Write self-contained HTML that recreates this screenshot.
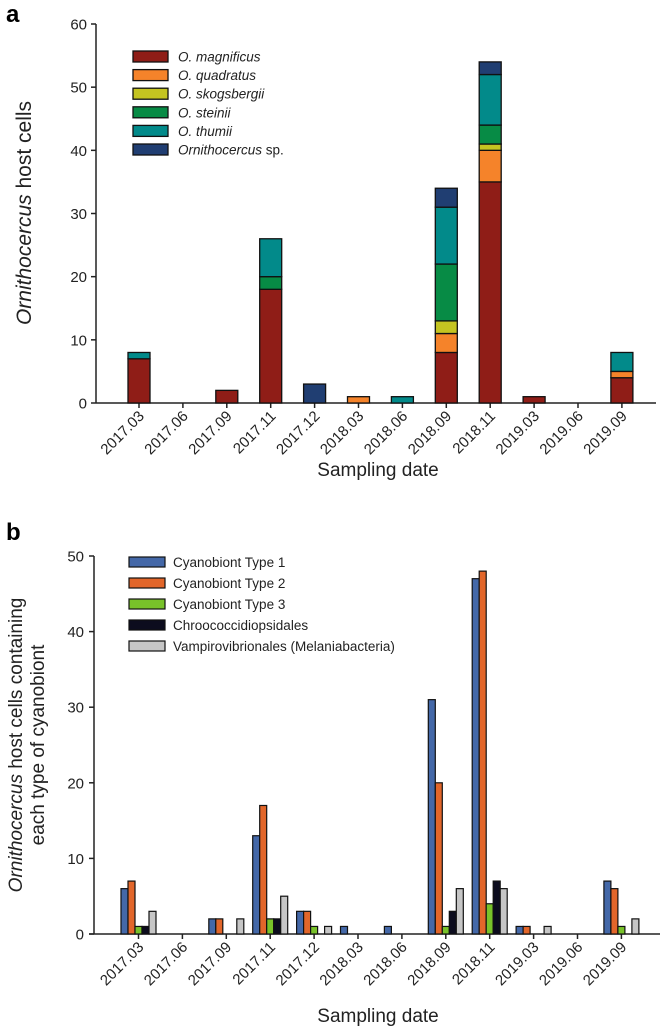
<!DOCTYPE html>
<html><head><meta charset="utf-8"><style>
html,body{margin:0;padding:0;background:#fff;}
svg{display:block;font-family:"Liberation Sans",Arial,sans-serif;}
</style></head><body>
<svg id="fig" width="668" height="1032" viewBox="0 0 668 1032">
<text x="6" y="22" font-size="24" font-weight="bold">a</text>
<text x="6" y="540" font-size="24" font-weight="bold">b</text>
<g id="ga"></g>
<g id="gb"></g>
</svg>
<script>
const categories = ["2017.03","2017.06","2017.09","2017.11","2017.12","2018.03","2018.06","2018.09","2018.11","2019.03","2019.06","2019.09"];
// Panel a stacked series
const aNames = ["O. magnificus","O. quadratus","O. skogsbergii","O. steinii","O. thumii","Ornithocercus sp."];
const aMagnificus = [7,0,2,18,0,0,0,8,35,1,0,4];
const aQuadratus  = [0,0,0,0,0,1,0,3,5,0,0,1];
const aSkogsbergii= [0,0,0,0,0,0,0,2,1,0,0,0];
const aSteinii    = [0,0,0,2,0,0,0,9,3,0,0,0];
const aThumii     = [1,0,0,6,0,0,1,9,8,0,0,3];
const aSp         = [0,0,0,0,3,0,0,3,2,0,0,0];
const aTicks = [0,10,20,30,40,50,60];
// Panel b grouped series
const bNames = ["Cyanobiont Type 1","Cyanobiont Type 2","Cyanobiont Type 3","Chroococcidiopsidales","Vampirovibrionales (Melaniabacteria)"];
const bType1 = [6,0,2,13,3,1,1,31,47,1,0,7];
const bType2 = [7,0,2,17,3,0,0,20,48,1,0,6];
const bType3 = [1,0,0,2,1,0,0,1,4,0,0,1];
const bChroo = [1,0,0,2,0,0,0,3,7,0,0,0];
const bVamp  = [3,0,2,5,1,0,0,6,6,1,0,2];
const bTicks = [0,10,20,30,40,50];

const NS="http://www.w3.org/2000/svg";
function mk(parent,tag,attrs,text){const e=document.createElementNS(NS,tag);for(const k in attrs)e.setAttribute(k,attrs[k]);if(text!==undefined)e.textContent=text;parent.appendChild(e);return e;}

const aCols=["#8f1d17","#f5832a","#c4c421","#078b45","#028a8a","#203e72"];
const bCols=["#4468a8","#e2662a","#78c22a","#0c0c1e","#c6c6c6"];

// ---------- Panel A ----------
(function(){
 const g=document.getElementById('ga');
 const x0=96,x1=656,yTop=24,yBot=403,max=60;
 const y=v=>yBot-(v/max)*(yBot-yTop);
 const xc=i=>139+i*43.9;
 let l;
 l=mk(g,'line',{x1:x0,y1:yTop,x2:x0,y2:yBot,stroke:'#222','stroke-width':1.5});
 
 l=mk(g,'line',{x1:x0,y1:yBot,x2:x1,y2:yBot,stroke:'#222','stroke-width':1.5});
 
 aTicks.forEach(t=>{
  mk(g,'line',{x1:x0-5,y1:y(t),x2:x0,y2:y(t),stroke:'#222','stroke-width':1.5});
  const tx=mk(g,'text',{x:x0-9,y:y(t)+5.5,'font-size':15,'text-anchor':'end',fill:'#222'},t);
  
 });
 const series=[aMagnificus,aQuadratus,aSkogsbergii,aSteinii,aThumii,aSp];
 categories.forEach((c,i)=>{
  mk(g,'line',{x1:xc(i),y1:yBot,x2:xc(i),y2:yBot+5,stroke:'#222','stroke-width':1.5});
  const tx=mk(g,'text',{x:0,y:0,'font-size':15,'text-anchor':'end',fill:'#222',transform:`translate(${xc(i)+6},${yBot+14}) rotate(-45)`},c);
  
  let base=0;
  series.forEach((s,k)=>{
   const v=s[i]; if(!v) return;
   const r=mk(g,'rect',{x:xc(i)-11,y:y(base+v),width:22,height:y(base)-y(base+v),fill:aCols[k],stroke:'#111','stroke-width':1.3});
   
   base+=v;
  });
 });
 aNames.forEach((n,k)=>{
  const yy=51+k*18.6;
  const r=mk(g,'rect',{x:133,y:yy,width:35,height:11,fill:aCols[k],stroke:'#111','stroke-width':1.3});
  
  const t=mk(g,'text',{x:178,y:yy+10.5,'font-size':13.5,fill:'#222'});
  
  if(k===5){mk(t,'tspan',{'font-style':'italic'},'Ornithocercus');mk(t,'tspan',{},' sp.');}
  else{t.setAttribute('font-style','italic');t.textContent=n;}
 });
 let t=mk(g,'text',{x:0,y:0,'font-size':21,'text-anchor':'middle',fill:'#222',transform:'translate(31,213) rotate(-90)'});
 
 mk(t,'tspan',{'font-style':'italic'},'Ornithocercus');mk(t,'tspan',{},' host cells');
 t=mk(g,'text',{x:378,y:476,'font-size':19,'text-anchor':'middle',fill:'#222'},'Sampling date');
 
})();

// ---------- Panel B ----------
(function(){
 const g=document.getElementById('gb');
 const x0=94,x1=660,yTop=556,yBot=934,max=50;
 const y=v=>yBot-(v/max)*(yBot-yTop);
 const xc=i=>138.5+i*43.9;
 let l;
 l=mk(g,'line',{x1:x0,y1:yTop,x2:x0,y2:yBot,stroke:'#222','stroke-width':1.5});
 
 l=mk(g,'line',{x1:89,y1:yBot,x2:x1,y2:yBot,stroke:'#222','stroke-width':1.5});
 
 bTicks.forEach(t=>{
  mk(g,'line',{x1:x0-5,y1:y(t),x2:x0,y2:y(t),stroke:'#222','stroke-width':1.5});
  const tx=mk(g,'text',{x:x0-10,y:y(t)+5.5,'font-size':15,'text-anchor':'end',fill:'#222'},t);
  
 });
 const series=[bType1,bType2,bType3,bChroo,bVamp];
 categories.forEach((c,i)=>{
  mk(g,'line',{x1:xc(i),y1:yBot,x2:xc(i),y2:yBot+5,stroke:'#222','stroke-width':1.5});
  const tx=mk(g,'text',{x:0,y:0,'font-size':15,'text-anchor':'end',fill:'#222',transform:`translate(${xc(i)+6},${yBot+14}) rotate(-45)`},c);
  
  series.forEach((s,k)=>{
   const v=s[i]; if(!v) return;
   const r=mk(g,'rect',{x:xc(i)-17.5+k*7,y:y(v),width:7,height:y(0)-y(v),fill:bCols[k],stroke:'#111','stroke-width':1.2});
   
  });
 });
 bNames.forEach((n,k)=>{
  const yy=557+k*21;
  const r=mk(g,'rect',{x:129,y:yy,width:36,height:10,fill:bCols[k],stroke:'#111','stroke-width':1.2});
  
  const t=mk(g,'text',{x:173,y:yy+10,'font-size':13.5,fill:'#222'},n);
  
 });
 let t=mk(g,'text',{x:0,y:0,'font-size':19,'text-anchor':'middle',fill:'#222',transform:'translate(22,745) rotate(-90)'});
 
 mk(t,'tspan',{'font-style':'italic'},'Ornithocercus');mk(t,'tspan',{},' host cells containing');
 t=mk(g,'text',{x:0,y:0,'font-size':19,'text-anchor':'middle',fill:'#222',transform:'translate(44,745) rotate(-90)'},'each type of cyanobiont');
 
 t=mk(g,'text',{x:378,y:1022,'font-size':19,'text-anchor':'middle',fill:'#222'},'Sampling date');
 
})();
</script>
</body></html>
